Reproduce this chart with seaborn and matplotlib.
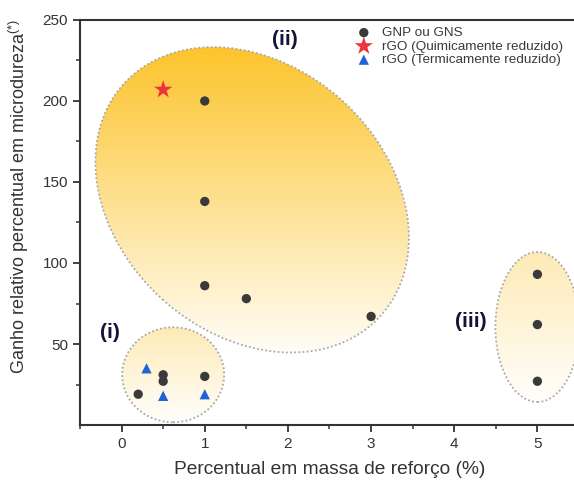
import numpy as np
import pandas as pd
import matplotlib
matplotlib.use('Agg')
import matplotlib.pyplot as plt
import seaborn as sns
from matplotlib.patches import Ellipse
from matplotlib.colors import LinearSegmentedColormap
from matplotlib.transforms import ScaledTranslation

# Data
gnp_x = [1, 1, 1, 1.5, 3, 0.2, 0.5, 0.5, 1, 5, 5, 5]
gnp_y = [200, 138, 86, 78, 67, 19, 27, 31, 30, 93, 62, 27]
rgo_quim_x = [0.5]
rgo_quim_y = [207]
rgo_term_x = [0.3, 0.5, 1]
rgo_term_y = [35, 18, 19]

series_names = ['GNP ou GNS', 'rGO (Quimicamente reduzido)', 'rGO (Termicamente reduzido)']

# Group highlight regions: label, centre (data), size (inches), angle, text position
group_labels = ['(i)', '(ii)', '(iii)']
group_centers = [(0.62, 31), (1.57, 139), (5.0, 60.5)]
group_sizes = [(1.02, 0.95), (3.46, 2.68), (0.84, 1.50)]
group_angles = [0, -42, 0]
group_alpha = [0.35, 1.0, 0.35]
label_pos = [(-0.14, 57), (1.96, 238), (4.2, 64)]

df = pd.DataFrame({
    'x': gnp_x + rgo_quim_x + rgo_term_x,
    'y': gnp_y + rgo_quim_y + rgo_term_y,
    'serie': [series_names[0]] * len(gnp_x) + [series_names[1]] * len(rgo_quim_x)
             + [series_names[2]] * len(rgo_term_x),
})

sns.set_style('ticks')
plt.rcParams['font.family'] = ['Liberation Sans', 'DejaVu Sans']
plt.rcParams['mathtext.fontset'] = 'custom'
plt.rcParams['mathtext.rm'] = 'Liberation Sans'

fig = plt.figure(figsize=(5.74, 4.88), dpi=100)
ax = fig.add_axes([80 / 574, 63 / 488, 499 / 574, 405 / 488])

# Gradient-filled ellipses with dotted border
cmap = LinearSegmentedColormap.from_list('amarelo', ['#fffdf6', '#fcc42c'])
grad = np.linspace(0, 1, 256).reshape(-1, 1)
for (cx, cy), (w, h), ang, alp in zip(group_centers, group_sizes, group_angles, group_alpha):
    tr = fig.dpi_scale_trans + ScaledTranslation(cx, cy, ax.transData)
    ell = Ellipse((0, 0), w, h, angle=ang, transform=tr, facecolor='none',
                  edgecolor='#a8a8a8', lw=1.3, linestyle=(0, (1, 1.3)), zorder=2)
    ax.add_patch(ell)
    a, b, th = w / 2, h / 2, np.radians(ang)
    hw = np.sqrt((a * np.cos(th)) ** 2 + (b * np.sin(th)) ** 2)
    hh = np.sqrt((a * np.sin(th)) ** 2 + (b * np.cos(th)) ** 2)
    im = ax.imshow(grad, extent=(-hw, hw, -hh, hh), origin='lower', cmap=cmap,
                   aspect='auto', alpha=alp, zorder=1, transform=tr)
    im.set_clip_path(ell)

# Scatter series
styles = {
    series_names[0]: dict(marker='o', color='#3a3a3a', s=45),
    series_names[1]: dict(marker='*', color='#f0323a', s=190),
    series_names[2]: dict(marker='^', color='#1f63d6', s=55),
}
for name in series_names:
    sub = df[df['serie'] == name]
    sns.scatterplot(data=sub, x='x', y='y', ax=ax, label=name, edgecolor='none',
                    zorder=5, **styles[name])

for txt, (tx, ty) in zip(group_labels, label_pos):
    ax.text(tx, ty, txt, fontsize=15, fontweight='bold', color='#14143a',
            ha='center', va='center', zorder=6)

ax.set_xlim(-0.5, 5.5)
ax.set_ylim(0, 250)
ax.set_xticks([0, 1, 2, 3, 4, 5])
ax.set_yticks([50, 100, 150, 200, 250])
ax.set_xticks(np.arange(-0.5, 5.6, 0.5), minor=True)
ax.set_yticks(np.arange(25, 251, 25), minor=True)
ax.tick_params(which='major', length=5, width=1.3, color='#333333', labelsize=11,
               labelcolor='#333333', direction='out')
ax.tick_params(which='minor', length=3, width=1.1, color='#333333', direction='out')
for sp in ax.spines.values():
    sp.set_visible(True)
    sp.set_linewidth(1.5)
    sp.set_color('#333333')

ax.set_xlabel('Percentual em massa de reforço (%)', fontsize=13.8, color='#333333', labelpad=7)
ax.set_ylabel('Ganho relativo percentual em microdureza$^{(*)}$', fontsize=13,
              color='#333333')
ax.yaxis.set_label_coords(-0.098, 0.563)

leg = ax.legend(loc='upper left', bbox_to_anchor=(349 / 574, 468 / 488),
                bbox_transform=fig.transFigure, frameon=False, fontsize=9.7,
                handletextpad=0.75, labelspacing=0.08, borderpad=0, handlelength=1.2)
for t in leg.get_texts():
    t.set_color('#3a3a3a')

fig.savefig('out.png', dpi=100)
